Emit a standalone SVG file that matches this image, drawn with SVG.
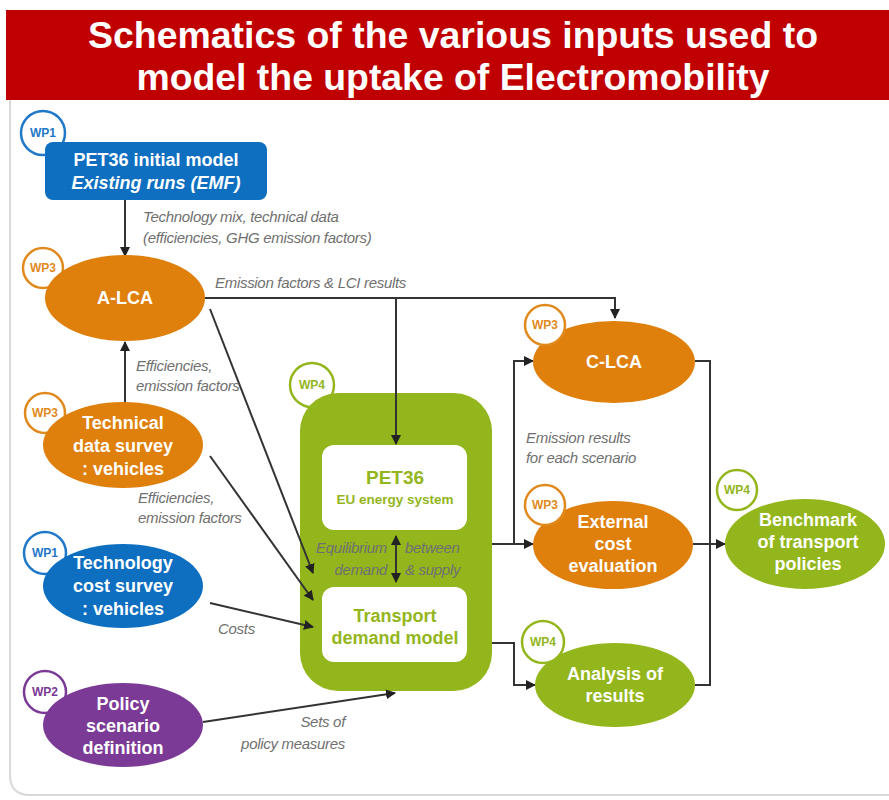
<svg xmlns="http://www.w3.org/2000/svg" width="889" height="800" viewBox="0 0 889 800">
<defs>
<marker id="ah" viewBox="0 0 10 10" refX="9" refY="5" markerWidth="5" markerHeight="5" orient="auto-start-reverse"><path d="M0,0 L10,5 L0,10 z" fill="#222"/></marker>
<style>
.title{font-family:"Liberation Sans",Arial,sans-serif;font-weight:bold;font-size:37px;fill:#fff;text-anchor:middle}
.nt{font-family:"Liberation Sans",Arial,sans-serif;font-weight:bold;font-size:18px;fill:#fff;text-anchor:middle}
.gt{font-family:"Liberation Sans",Arial,sans-serif;font-weight:bold;fill:#93b61c;text-anchor:middle}
.lbl{font-family:"Liberation Sans",Arial,sans-serif;font-style:italic;font-size:15px;fill:#707070;letter-spacing:-0.3px}
.wp{fill:#fff;stroke-width:2.5}
.wpt{font-family:"Liberation Sans",Arial,sans-serif;font-weight:bold;font-size:12px;text-anchor:middle}
.c{fill:none;stroke:#333;stroke-width:2}
</style>
</defs>
<rect x="0" y="0" width="889" height="800" fill="#fff"/>
<path d="M10,100 V775 Q10,795 30,795 H889" fill="none" stroke="#d9d9d9" stroke-width="2"/>
<g id="title">
<rect x="6" y="10" width="883" height="90" fill="#c00000"/>
<text class="title" x="453" y="48" textLength="730" lengthAdjust="spacingAndGlyphs">Schematics of the various inputs used to</text>
<text class="title" x="453" y="90" textLength="633" lengthAdjust="spacingAndGlyphs">model the uptake of Electromobility</text>
</g>

<g id="green-container">
<circle class="wp" cx="312" cy="385" r="22" stroke="#93b61c"/>
<text class="wpt" x="312" y="389" fill="#93b61c">WP4</text>
<rect x="300" y="393" width="192" height="298" rx="38" fill="#93b61c"/>
</g>

<g id="connectors">
<line class="c" x1="125" y1="200" x2="125" y2="256" marker-end="url(#ah)"/>
<line class="c" x1="125" y1="403" x2="125" y2="342" marker-end="url(#ah)"/>
<polyline class="c" points="203,298 615,298 615,318" marker-end="url(#ah)"/>
<line class="c" x1="396" y1="298" x2="396" y2="444" marker-end="url(#ah)"/>
<line class="c" x1="210" y1="309" x2="313" y2="573" marker-end="url(#ah)"/>
<line class="c" x1="210" y1="456" x2="313" y2="600" marker-end="url(#ah)"/>
<line class="c" x1="210" y1="603" x2="313" y2="627" marker-end="url(#ah)"/>
<line class="c" x1="203" y1="722" x2="395" y2="693" marker-end="url(#ah)"/>
<line class="c" x1="396" y1="536" x2="396" y2="582" marker-start="url(#ah)" marker-end="url(#ah)"/>
<polyline class="c" points="492,544 514,544 514,361 533,361" marker-end="url(#ah)"/>
<line class="c" x1="514" y1="544" x2="533" y2="544" marker-end="url(#ah)"/>
<polyline class="c" points="492,643 514,643 514,685 535,685" marker-end="url(#ah)"/>
<polyline class="c" points="695,361 710,361 710,685 695,685" />
<line class="c" x1="693" y1="544" x2="725" y2="544" marker-end="url(#ah)"/>
<text class="lbl" x="143" y="222">Technology mix, technical data</text>
<text class="lbl" x="143" y="243">(efficiencies, GHG emission factors)</text>
<text class="lbl" x="215" y="288">Emission factors &amp; LCI results</text>
<text class="lbl" x="136" y="371">Efficiencies,</text>
<text class="lbl" x="136" y="391">emission factors</text>
<text class="lbl" x="138" y="503">Efficiencies,</text>
<text class="lbl" x="138" y="523">emission factors</text>
<text class="lbl" x="218" y="634">Costs</text>
<text class="lbl" x="345" y="727" text-anchor="end">Sets of</text>
<text class="lbl" x="345" y="749" text-anchor="end">policy measures</text>
<text class="lbl" x="526" y="443">Emission results</text>
<text class="lbl" x="526" y="463">for each scenario</text>
<text class="lbl" x="387" y="553" text-anchor="end" fill="#5e6b2a">Equilibrium</text>
<text class="lbl" x="387" y="575" text-anchor="end" fill="#5e6b2a">demand</text>
<text class="lbl" x="405" y="553" fill="#5e6b2a">between</text>
<text class="lbl" x="405" y="575" fill="#5e6b2a">&amp; supply</text>
</g>

<g id="pet36-initial">
<circle class="wp" cx="43" cy="133" r="22" stroke="#1f78c8"/>
<text class="wpt" x="43" y="137" fill="#1f78c8">WP1</text>
<rect x="45" y="142" width="222" height="58" rx="8" fill="#0e6fc1"/>
<text class="nt" x="156" y="166">PET36 initial model</text>
<text class="nt" x="156" y="189" font-weight="normal" font-style="italic">Existing runs (EMF)</text>
</g>

<g id="alca">
<circle class="wp" cx="43" cy="268" r="20" stroke="#e08a1e"/>
<text class="wpt" x="43" y="272" fill="#e08a1e">WP3</text>
<ellipse cx="125" cy="298" rx="80" ry="43" fill="#df7f0c"/>
<text class="nt" x="125" y="304">A-LCA</text>
</g>

<g id="tech-data">
<circle class="wp" cx="45" cy="413" r="20" stroke="#e08a1e"/>
<text class="wpt" x="45" y="417" fill="#e08a1e">WP3</text>
<ellipse cx="123" cy="445" rx="80" ry="43" fill="#df7f0c"/>
<text class="nt" x="123" y="429">Technical</text>
<text class="nt" x="123" y="452">data survey</text>
<text class="nt" x="123" y="475">: vehicles</text>
</g>

<g id="tech-cost">
<circle class="wp" cx="45" cy="553" r="21" stroke="#1f78c8"/>
<text class="wpt" x="45" y="557" fill="#1f78c8">WP1</text>
<ellipse cx="123" cy="586" rx="80" ry="42" fill="#0e6fc1"/>
<text class="nt" x="123" y="569">Technology</text>
<text class="nt" x="123" y="592">cost survey</text>
<text class="nt" x="123" y="615">: vehicles</text>
</g>

<g id="policy">
<circle class="wp" cx="45" cy="692" r="21" stroke="#7b3a96"/>
<text class="wpt" x="45" y="696" fill="#7b3a96">WP2</text>
<ellipse cx="123" cy="725" rx="80" ry="42" fill="#7b3a96"/>
<text class="nt" x="123" y="710">Policy</text>
<text class="nt" x="123" y="732">scenario</text>
<text class="nt" x="123" y="754">definition</text>
</g>

<g id="pet36-eu">
<rect x="322" y="445" width="145" height="85" rx="12" fill="#fff"/>
<text class="gt" x="395" y="484" font-size="19">PET36</text>
<text class="gt" x="395" y="504" font-size="13.5">EU energy system</text>
</g>

<g id="transport">
<rect x="322" y="587" width="145" height="75" rx="12" fill="#fff"/>
<text class="gt" x="395" y="622" font-size="18">Transport</text>
<text class="gt" x="395" y="644" font-size="18">demand model</text>
</g>

<g id="clca">
<ellipse cx="614" cy="362" rx="81" ry="41" fill="#df7f0c"/>
<circle class="wp" cx="545" cy="325" r="20" stroke="#e08a1e"/>
<text class="wpt" x="545" y="329" fill="#e08a1e">WP3</text>
<text class="nt" x="614" y="368">C-LCA</text>
</g>

<g id="external-cost">
<ellipse cx="613" cy="545" rx="80" ry="44" fill="#df7f0c"/>
<circle class="wp" cx="545" cy="505" r="20" stroke="#e08a1e"/>
<text class="wpt" x="545" y="509" fill="#e08a1e">WP3</text>
<text class="nt" x="613" y="528">External</text>
<text class="nt" x="613" y="550">cost</text>
<text class="nt" x="613" y="572">evaluation</text>
</g>

<g id="analysis">
<ellipse cx="615" cy="685" rx="80" ry="42" fill="#93b61c"/>
<circle class="wp" cx="543" cy="642" r="21" stroke="#93b61c"/>
<text class="wpt" x="543" y="646" fill="#93b61c">WP4</text>
<text class="nt" x="615" y="680">Analysis of</text>
<text class="nt" x="615" y="702">results</text>
</g>

<g id="benchmark">
<ellipse cx="805" cy="544" rx="80" ry="45" fill="#93b61c"/>
<circle class="wp" cx="737" cy="490" r="20" stroke="#93b61c"/>
<text class="wpt" x="737" y="494" fill="#93b61c">WP4</text>
<text class="nt" x="808" y="526">Benchmark</text>
<text class="nt" x="808" y="548">of transport</text>
<text class="nt" x="808" y="570">policies</text>
</g>
</svg>
